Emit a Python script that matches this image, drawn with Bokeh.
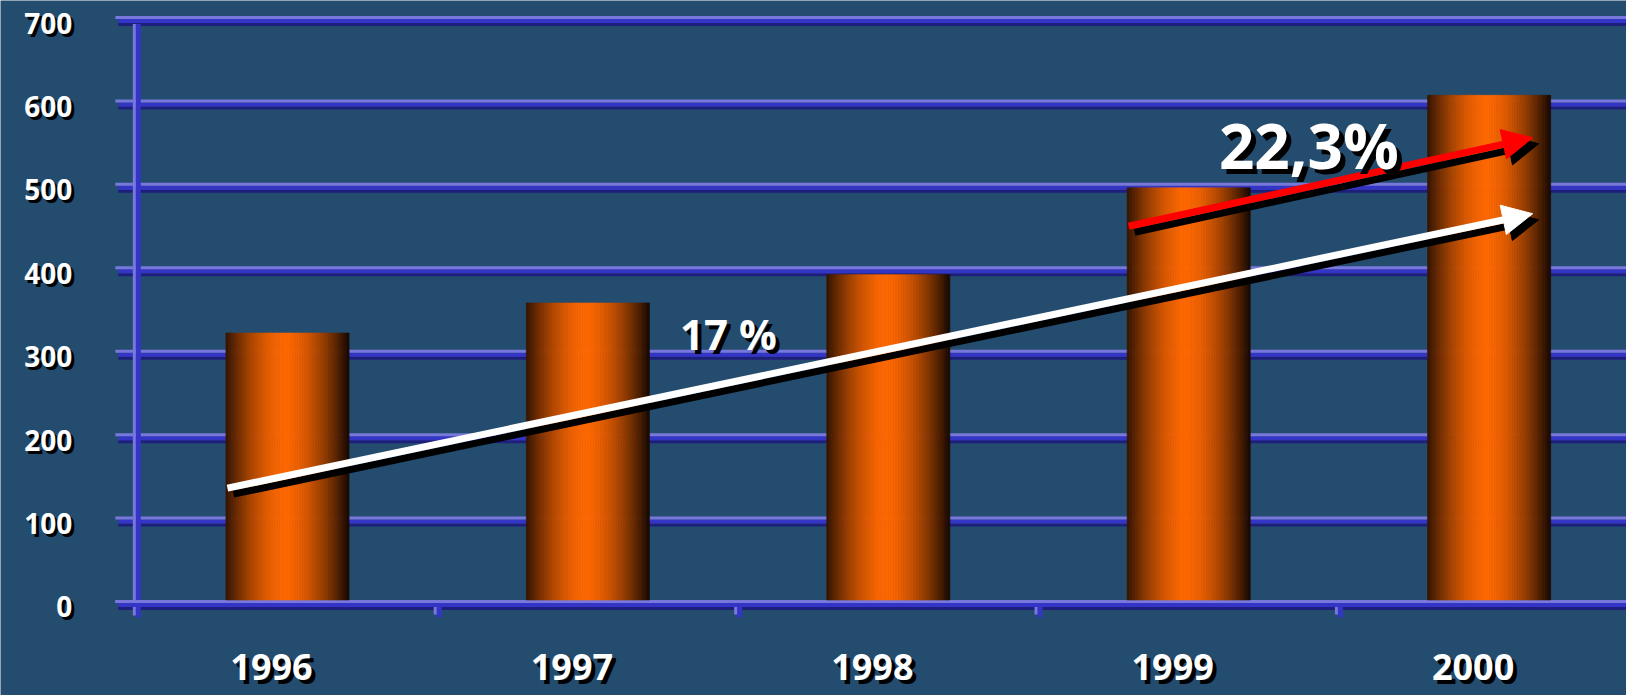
import numpy as np
from bokeh.plotting import figure
from bokeh.models import ColumnDataSource, Arrow, NormalHead
from bokeh.core.properties import value
from bokeh.embed import file_html
from bokeh.resources import INLINE

# ---------------- data ----------------
years = ["1996", "1997", "1998", "1999", "2000"]
sales = [320, 356, 390, 494, 605]
y_ticks = [0, 100, 200, 300, 400, 500, 600, 700]
y_tick_labels = ["0", "100", "200", "300", "400", "500", "600", "700"]

# growth arrows (data coordinates: category index, value)
white_arrow_start = [-0.20, 134]
white_arrow_end = [4.145, 463]
red_arrow_start = [2.80, 448]
red_arrow_end = [4.145, 554]
label_17 = ["17 %"]
label_17_x = [1.468]
label_17_y = [319]
label_223 = ["22,3%"]
label_223_x = [3.40]
label_223_y = [545]

# ---------------- layout ----------------
W, H = 1626, 695
X0, X1 = -0.9554, 4.4574
Y0, Y1 = -114.5, 718.6
PX = (X1 - X0) / W   # data units per pixel (x)
PY = (Y1 - Y0) / H   # data units per pixel (y)

BG = "#244c6e"
LIGHT = "#7878dc"
BLUE = "#3434c6"
DARK = "#1e1e7c"
FONT = value("Open Sans")

p = figure(width=W, height=H, x_range=(X0, X1), y_range=(Y0, Y1),
           output_backend="svg", toolbar_location=None,
           x_axis_location=None, y_axis_location=None, min_border=0)
p.background_fill_color = BG
p.border_fill_color = BG
p.outline_line_color = None
p.xgrid.visible = False
p.ygrid.visible = False

# ---------------- grid lines ----------------
yt = np.array(y_ticks, dtype=float)
n = len(yt)
xe = X1 + 0.1
p.segment(x0=[-0.5 - 19 * PX] * n, x1=[xe] * n, y0=yt - 8.5 * PY, y1=yt - 8.5 * PY,
          line_color=DARK, line_width=3)
p.segment(x0=[-0.5 - 19 * PX] * n, x1=[xe] * n, y0=yt - 5 * PY, y1=yt - 5 * PY,
          line_color=BLUE, line_width=4)
p.segment(x0=[-0.5 - 22 * PX] * n, x1=[xe] * n, y0=yt - 1.5 * PY, y1=yt - 1.5 * PY,
          line_color=LIGHT, line_width=3)

# vertical axis line
ax_bottom = -21
p.segment(x0=[-0.5 + 1 * PX], x1=[-0.5 + 1 * PX], y0=[ax_bottom], y1=[y_ticks[-1] - 8 * PY],
          line_color=BLUE, line_width=5)
p.segment(x0=[-0.5 - 3 * PX], x1=[-0.5 - 3 * PX], y0=[ax_bottom + 2 * PY], y1=[y_ticks[-1] - 8 * PY],
          line_color=LIGHT, line_width=3)

# category boundary ticks on the x axis
bx = np.arange(len(years)) + 0.5
p.segment(x0=bx + 1.5 * PX, x1=bx + 1.5 * PX, y0=[ax_bottom] * len(bx), y1=[0] * len(bx),
          line_color=BLUE, line_width=5)
p.segment(x0=bx - 2.5 * PX, x1=bx - 2.5 * PX, y0=[ax_bottom + 3 * PY] * len(bx), y1=[0] * len(bx),
          line_color=LIGHT, line_width=3)
p.segment(x0=[-0.5 - 19 * PX], x1=[xe], y0=[-5 * PY], y1=[-5 * PY], line_color=BLUE, line_width=4)
p.segment(x0=[-0.5 - 22 * PX], x1=[xe], y0=[-1.5 * PY], y1=[-1.5 * PY], line_color=LIGHT, line_width=3)

# ---------------- bars with cylindrical shading ----------------
BAR_W = 0.41
NS = 48
dark = np.array([22, 8, 0], dtype=float)
orange = np.array([255, 104, 0], dtype=float)
xs, tops, cols = [], [], []
for i, v in enumerate(sales):
    for k in range(NS):
        t = (k + 0.5) / NS
        f = max(0.0, 1 - (abs(t - 0.48) / 0.52) ** 1.6)
        c = dark + (orange - dark) * f
        xs.append(i - BAR_W / 2 + t * BAR_W)
        tops.append(v)
        cols.append("#%02x%02x%02x" % tuple(int(round(q)) for q in c))
bars = ColumnDataSource(dict(x=xs, top=tops, color=cols))
p.vbar(x="x", top="top", bottom=0, width=BAR_W / NS, source=bars,
       fill_color="color", line_color="color", line_width=0.6)

# ---------------- arrows ----------------
def arrow(start, end, color, dx=0, dy=0):
    p.add_layout(Arrow(x_start=start[0] + dx, y_start=start[1] + dy,
                       x_end=end[0] + dx, y_end=end[1] + dy,
                       line_color=color, line_width=7,
                       end=NormalHead(size=30, fill_color=color, line_color=color, line_width=1)))

arrow(white_arrow_start, white_arrow_end, "black", 6 * PX, -6 * PY)
arrow(red_arrow_start, red_arrow_end, "black", 6 * PX, -6 * PY)
arrow(white_arrow_start, white_arrow_end, "white")
arrow(red_arrow_start, red_arrow_end, "#ff0000")

# ---------------- texts ----------------
def shadow_text(x, y, text, size, align, xo, yo, sh, level="glyph"):
    src = ColumnDataSource(dict(x=x, y=y, text=text))
    p.text(x="x", y="y", text="text", source=src, text_font=FONT, text_font_style="bold",
           text_font_size=size, text_align=align, text_baseline="middle",
           text_color="black", x_offset=xo + sh, y_offset=yo + sh, level=level)
    p.text(x="x", y="y", text="text", source=src, text_font=FONT, text_font_style="bold",
           text_font_size=size, text_align=align, text_baseline="middle",
           text_color="white", x_offset=xo, y_offset=yo, level=level)

# y tick labels
shadow_text([-0.5] * len(y_ticks), y_ticks, y_tick_labels, "28px", "right", -65, 7, 3)
# year labels
shadow_text(list(range(len(years))), [ax_bottom] * len(years), years, "36px", "center", -16, 50, 4)
# growth labels
shadow_text(label_17_x, label_17_y, label_17, "42px", "center", 0, 0, 4, "overlay")
shadow_text(label_223_x, label_223_y, label_223, "62px", "center", 0, 0, 5, "overlay")

html = file_html(p, INLINE)
open("out.html", "w").write(html)
